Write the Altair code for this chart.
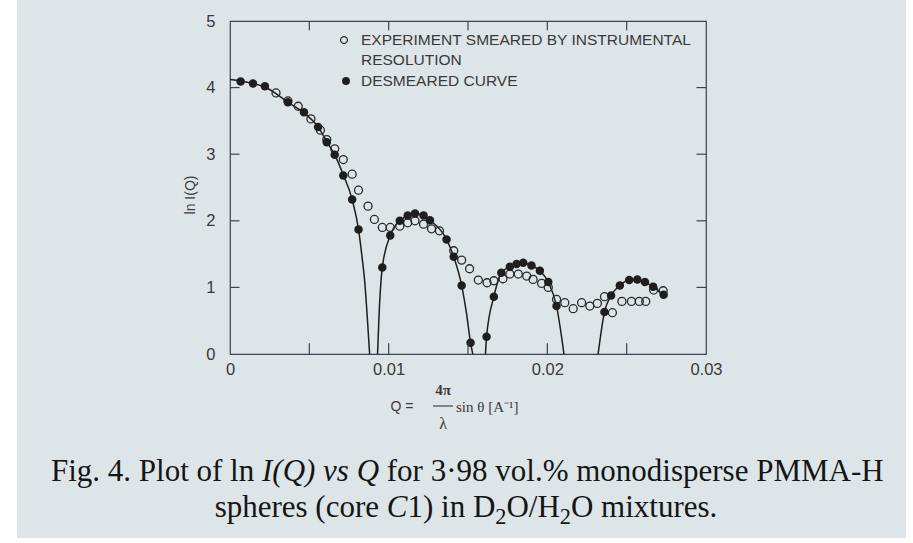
import altair as alt
import pandas as pd

# ---------------- data ----------------
# experiment smeared by instrumental resolution (open circles)
open_q = [0.0029, 0.00365, 0.0043, 0.0051, 0.0057, 0.0061, 0.0066, 0.00714, 0.0077, 0.0081,
          0.0087, 0.0091, 0.0096, 0.0101, 0.0107, 0.0112, 0.01166, 0.0122, 0.0127, 0.0132,
          0.0141, 0.0146, 0.0151, 0.01565, 0.0162, 0.01663, 0.0172, 0.01764, 0.01817, 0.0187,
          0.0191, 0.01964, 0.02006, 0.02058, 0.0211, 0.02163, 0.02216, 0.02268, 0.02315, 0.0236,
          0.0241, 0.0247, 0.0253, 0.0258, 0.0262, 0.0267, 0.0273]
open_ln = [3.92, 3.80, 3.72, 3.53, 3.36, 3.22, 3.08, 2.92, 2.70, 2.46,
           2.22, 2.02, 1.90, 1.90, 1.92, 1.97, 2.00, 1.95, 1.88, 1.85,
           1.55, 1.41, 1.28, 1.11, 1.07, 1.10, 1.13, 1.20, 1.20, 1.17,
           1.12, 1.06, 1.00, 0.82, 0.77, 0.68, 0.77, 0.72, 0.76, 0.86,
           0.62, 0.79, 0.79, 0.79, 0.79, 0.96, 0.95]

# desmeared curve (filled circles)
fill_q = [0.00067, 0.00145, 0.0022, 0.00365, 0.00466, 0.00555, 0.0061, 0.0066, 0.00714, 0.0077,
          0.0081, 0.0096, 0.0101, 0.0107, 0.0112, 0.01166, 0.0122, 0.0126, 0.01365, 0.0141,
          0.0146, 0.01516, 0.01617, 0.01663, 0.0171, 0.01764, 0.01806, 0.01848, 0.0190, 0.01953,
          0.02006, 0.02058, 0.02360, 0.02402, 0.02457, 0.02516, 0.02567, 0.02615, 0.02667, 0.02733]
fill_ln = [4.09, 4.06, 4.02, 3.78, 3.63, 3.41, 3.18, 2.99, 2.68, 2.32,
           1.87, 1.30, 1.78, 2.00, 2.08, 2.11, 2.08, 2.01, 1.72, 1.46,
           1.03, 0.17, 0.26, 0.86, 1.22, 1.31, 1.35, 1.37, 1.33, 1.25,
           1.08, 0.72, 0.63, 0.88, 1.03, 1.11, 1.12, 1.08, 1.01, 0.89]

# smooth desmeared curve, drawn in four branches between the minima
curve_seg = [1] * 16 + [2] * 15 + [3] * 12 + [4] * 10
curve_q = [0.0, 0.00067, 0.00145, 0.0022, 0.00365, 0.00466, 0.00555, 0.0061, 0.0066, 0.00714,
           0.0077, 0.0081, 0.0083, 0.0085, 0.00865, 0.0088,
           0.0093, 0.00939, 0.0096, 0.0101, 0.0107, 0.0112, 0.01166, 0.0122, 0.0126, 0.01365,
           0.0141, 0.0146, 0.0149, 0.01516, 0.0153,
           0.0161, 0.01617, 0.01663, 0.0171, 0.01764, 0.01806, 0.01848, 0.0190, 0.01953, 0.02006,
           0.02058, 0.02105,
           0.0232, 0.0236, 0.02402, 0.02457, 0.02516, 0.02567, 0.02615, 0.02667, 0.02733, 0.0274]
curve_ln = [4.12, 4.10, 4.06, 4.01, 3.78, 3.62, 3.41, 3.19, 2.99, 2.69,
            2.32, 1.87, 1.50, 1.06, 0.56, 0.0,
            0.0, 0.56, 1.30, 1.78, 2.00, 2.08, 2.11, 2.08, 2.01, 1.72,
            1.46, 1.03, 0.62, 0.17, 0.0,
            0.0, 0.26, 0.86, 1.22, 1.31, 1.35, 1.37, 1.33, 1.25, 1.08,
            0.72, 0.0,
            0.0, 0.63, 0.88, 1.03, 1.11, 1.12, 1.08, 1.01, 0.89, 0.88]

x_ticks = [0.005, 0.01, 0.015, 0.02, 0.025]
y_ticks = [1, 2, 3, 4]
x_labels = [0, 0.01, 0.02, 0.03]
y_labels = [0, 1, 2, 3, 4, 5]

legend_open = ["EXPERIMENT SMEARED BY INSTRUMENTAL", "RESOLUTION"]
legend_fill = "DESMEARED CURVE"

# ---------------- styling ----------------
BG = "#dde5e9"
INK = "#1e1e1e"
AXC = "#3c4250"
LAB = "#3a3a3a"
SANS = "Liberation Sans"
SERIF = "Liberation Serif"

W, H = 476, 333
PAD_L, PAD_T = 230, 21

xs = alt.Scale(domain=[0, 0.03], nice=False, zero=False)
ys = alt.Scale(domain=[0, 5], nice=False)

x_axis = alt.Axis(values=x_labels, ticks=False, domain=False, grid=False, title=None,
                  labelExpr="datum.value == 0 ? '0' : format(datum.value, '.2f')",
                  labelPadding=7, labelFontSize=16.5, labelFont=SANS, labelColor=LAB,
                  labelFlush=False, zindex=2)
y_axis = alt.Axis(values=y_labels, ticks=False, domain=False, grid=False, title=None,
                  format="d", labelPadding=15, labelFontSize=16.5, labelFont=SANS,
                  labelColor=LAB, zindex=2)

X = alt.X("q:Q", scale=xs, axis=x_axis)
Y = alt.Y("ln:Q", scale=ys, axis=y_axis)

open_df = pd.DataFrame({"q": open_q, "ln": open_ln})
fill_df = pd.DataFrame({"q": fill_q, "ln": fill_ln})
curve_df = pd.DataFrame({"seg": curve_seg, "q": curve_q, "ln": curve_ln})

one = pd.DataFrame({"t": [""]})


def strip_rect(ax0, ax1, ay0, ay1):
    return alt.Chart(one).mark_rect(color="white").encode(
        x=alt.value(ax0 - PAD_L), x2=alt.value(ax1 - PAD_L),
        y=alt.value(ay0 - PAD_T), y2=alt.value(ay1 - PAD_T))


# white margins of the scanned page
margins = [strip_rect(0, 17, 0, 543), strip_rect(906, 913, 0, 543), strip_rect(0, 913, 538, 543)]

curve = alt.Chart(curve_df).mark_line(color=INK, strokeWidth=1.5, interpolate="monotone",
                                      clip=True).encode(x=X, y=Y, detail="seg:N", order="q:Q")

open_pts = alt.Chart(open_df).mark_point(shape="circle", filled=False, size=64, color="#2a2a2a",
                                         strokeWidth=1.3, opacity=1).encode(x=X, y=Y)
fill_pts = alt.Chart(fill_df).mark_point(shape="circle", filled=True, size=72, color=INK,
                                         opacity=1).encode(x=X, y=Y)

# inward tick marks on all four sides
xt_b = pd.DataFrame({"q": x_ticks, "ln": [0.0] * 5, "ln2": [0.16] * 5})
xt_t = pd.DataFrame({"q": x_ticks, "ln": [5.0] * 5, "ln2": [4.86] * 5})
yt_l = pd.DataFrame({"q": [0.0] * 4, "q2": [0.0006] * 4, "ln": y_ticks})
yt_r = pd.DataFrame({"q": [0.03] * 4, "q2": [0.0294] * 4, "ln": y_ticks})
tick_style = dict(color=AXC, strokeWidth=1.2)
ticks = [
    alt.Chart(xt_b).mark_rule(**tick_style).encode(x=X, y=Y, y2="ln2:Q"),
    alt.Chart(xt_t).mark_rule(**tick_style).encode(x=X, y=Y, y2="ln2:Q"),
    alt.Chart(yt_l).mark_rule(**tick_style).encode(x=X, x2="q2:Q", y=Y),
    alt.Chart(yt_r).mark_rule(**tick_style).encode(x=X, x2="q2:Q", y=Y),
]


def txt(s, ax, ay, size=15, font=SANS, align="left", baseline="middle", style="normal",
        weight="normal", angle=0, color=LAB):
    return alt.Chart(pd.DataFrame({"t": [s]})).mark_text(
        align=align, baseline=baseline, font=font, fontSize=size, fontStyle=style,
        fontWeight=weight, angle=angle, color=color).encode(
        x=alt.value(ax - PAD_L), y=alt.value(ay - PAD_T), text="t:N")


# legend inside the plot
legend = [
    alt.Chart(one).mark_point(shape="circle", filled=False, size=48, color="#2a2a2a",
                              strokeWidth=1.2, opacity=1).encode(
        x=alt.value(344 - PAD_L), y=alt.value(40 - PAD_T)),
    txt(legend_open[0], 361, 40, size=15.5),
    txt(legend_open[1], 361, 60, size=15.5),
    alt.Chart(one).mark_point(shape="circle", filled=True, size=62, color=INK, opacity=1).encode(
        x=alt.value(346 - PAD_L), y=alt.value(81 - PAD_T)),
    txt(legend_fill, 361, 81, size=15.5),
]

# axis titles
titles = [
    txt("ln I(Q)", 191, 195, size=14, align="center", angle=270),
    txt("Q =", 402, 407, size=14, align="center"),
    txt("4π", 443, 390, size=15, font=SERIF, weight="bold", align="center"),
    txt("λ", 443, 424, size=16, font=SERIF, align="center"),
    alt.Chart(one).mark_rule(color=LAB, strokeWidth=1.1).encode(
        x=alt.value(433 - PAD_L), x2=alt.value(453 - PAD_L), y=alt.value(406 - PAD_T)),
    txt("sin θ  [A⁻¹]", 456, 407, size=15, font=SERIF),
]

# caption, set as mixed roman / italic runs
TIMES = {' ': .25, 'F': .556, 'i': .278, 'g': .5, '.': .25, '4': .5, 'P': .556, 'l': .278,
         'o': .5, 't': .278, 'f': .333, 'n': .5, 'v': .5, 's': .389, 'r': .333, '3': .5,
         '·': .25, '9': .5, '8': .5, '%': .833, 'm': .778, 'd': .5, 'p': .5, 'e': .444,
         'M': .889, 'A': .722, '-': .333, 'H': .722, 'h': .5, '(': .333, ')': .333, 'c': .444,
         '1': .5, 'D': .722, 'O': .722, '/': .278, 'x': .5, 'u': .5, '2': .5}
TIMES_I = {'I': .333, '(': .333, 'Q': .722, ')': .333, 'v': .444, 's': .389, ' ': .25, 'C': .667}

FS = 31
line1 = [("Fig. 4. Plot of ln ", "normal", 1.0, 0), ("I(Q)", "italic", 1.0, 0),
         (" ", "normal", 1.0, 0), ("vs Q", "italic", 1.0, 0),
         (" for 3·98 vol.% monodisperse PMMA-H", "normal", 1.0, 0)]
line2 = [("spheres (core ", "normal", 1.0, 0), ("C", "italic", 1.0, 0),
         ("1) in D", "normal", 1.0, 0), ("2", "normal", 0.72, 7),
         ("O/H", "normal", 1.0, 0), ("2", "normal", 0.72, 7),
         ("O mixtures.", "normal", 1.0, 0)]


def run_width(s, style, scale):
    table = TIMES_I if style == "italic" else TIMES
    return sum(table.get(ch, .5) for ch in s) * FS * scale


def caption(runs, center, baseline_y):
    total = sum(run_width(s, st, sc) for s, st, sc, _ in runs)
    x = center - total / 2
    out = []
    for s, st, sc, dy in runs:
        lead = len(s) - len(s.lstrip(" "))
        body = s.strip(" ")
        if body:
            x0 = x + run_width(" " * lead, st, sc)
            out.append(txt(body, x0, baseline_y + dy, size=FS * sc, font=SERIF, style=st,
                           baseline="alphabetic", color="#151515"))
        x += run_width(s, st, sc)
    return out


cap = caption(line1, 466, 481) + caption(line2, 466, 517)

chart = alt.layer(curve, open_pts, fill_pts, *ticks, *legend, *titles, *cap, *margins).properties(
    width=W, height=H,
    padding={"left": PAD_L, "top": PAD_T, "right": 913 - PAD_L - W, "bottom": 543 - PAD_T - H},
    autosize=alt.AutoSizeParams(type="none"),
).configure(background=BG).configure_view(stroke=AXC, strokeWidth=1.2)

chart.save("out.html", embed_options={"renderer": "svg", "actions": False})
